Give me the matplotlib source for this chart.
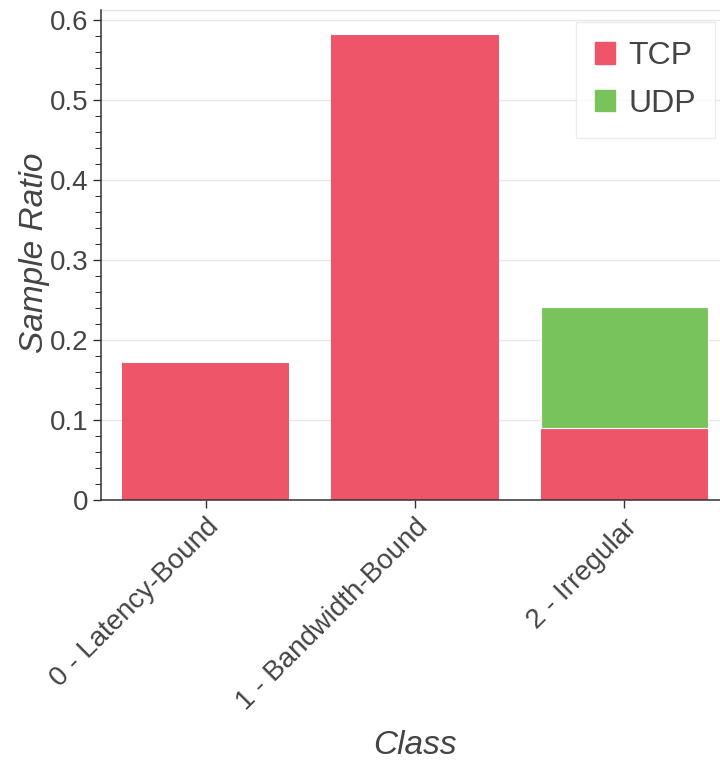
import matplotlib
matplotlib.use("Agg")
import matplotlib.pyplot as plt
from matplotlib.ticker import MultipleLocator
from matplotlib.patches import Patch
import numpy as np

plt.rcParams['font.family'] = ['Liberation Sans', 'DejaVu Sans']

classes = ["0 - Latency-Bound", "1 - Bandwidth-Bound", "2 - Irregular"]
tcp = [0.1725, 0.5825, 0.090]
udp = [0.0, 0.0, 0.151]
yticks = [0, 0.1, 0.2, 0.3, 0.4, 0.5, 0.6]
ytick_labels = ["0", "0.1", "0.2", "0.3", "0.4", "0.5", "0.6"]

tcp_color = "#ef5568"
udp_color = "#78c35b"
text_color = "#444444"

W, H = 720, 763
fig = plt.figure(figsize=(W / 100, H / 100), dpi=100)
ax = fig.add_axes([101 / W, 1 - 500 / H, 628 / W, 490 / H])

x = np.arange(len(classes))
ax.bar(x, tcp, width=0.8, color=tcp_color, label="TCP", zorder=2)
ax.bar(x, udp, width=0.8, bottom=tcp, color=udp_color, label="UDP",
       zorder=2, edgecolor="white", linewidth=0.8)

ax.set_xlim(-0.5, 2.5)
ax.set_ylim(0, 0.6125)

ax.set_yticks(yticks)
ax.set_yticklabels(ytick_labels)
ax.yaxis.set_minor_locator(MultipleLocator(0.02))
ax.set_xticks(x)
ax.set_xticklabels(classes, rotation=45, ha="right", va="top",
                   rotation_mode="anchor", fontsize=20, color=text_color)

ax.tick_params(axis="y", which="major", length=6, width=1, color="#333333",
               labelsize=20, labelcolor=text_color, pad=3)
ax.tick_params(axis="y", which="minor", length=4, width=0.8, color="#333333")
ax.tick_params(axis="x", which="major", length=6, width=1, color="#333333",
               pad=4)

ax.grid(axis="y", which="major", color="#e6e6e6", linewidth=1, zorder=0)
ax.set_axisbelow(True)

for side in ["top", "right"]:
    ax.spines[side].set_visible(False)
for side in ["left", "bottom"]:
    ax.spines[side].set_color("#333333")
    ax.spines[side].set_linewidth(1.1)

ax.axhline(0.6125, color="#e6e6e6", linewidth=1, zorder=0, clip_on=False)

ax.set_ylabel("Sample Ratio", fontsize=24, style="italic", color=text_color)
ax.yaxis.set_label_coords((35 - 101) / 628, (500 - 253) / 490)
ax.yaxis.label.set_verticalalignment("center")
ax.set_xlabel("Class", fontsize=24, style="italic", color=text_color)
ax.xaxis.set_label_coords((415 - 101) / 628, -(745 - 500) / 490)
ax.xaxis.label.set_verticalalignment("center")

handles = [Patch(color=tcp_color), Patch(color=udp_color)]
leg = ax.legend(handles, ["TCP", "UDP"], loc="upper right",
                bbox_to_anchor=((715 - 101) / 628, (500 - 22) / 490),
                fontsize=23, frameon=True, fancybox=False,
                handlelength=0.65, handleheight=0.65, handletextpad=0.4,
                borderpad=0.6, labelspacing=0.55, labelcolor=text_color,
                borderaxespad=0)
leg.get_frame().set_edgecolor("#e8e8e8")
leg.get_frame().set_linewidth(1)

fig.savefig("out.png", dpi=100)
